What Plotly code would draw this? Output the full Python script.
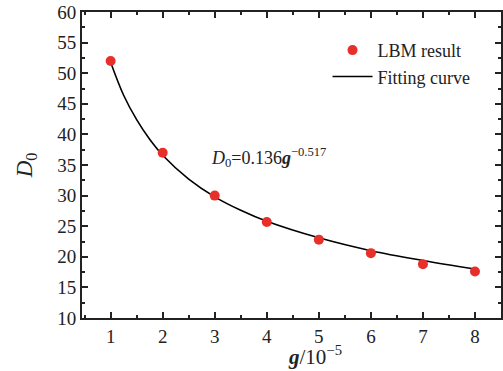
import plotly.graph_objects as go

g_values = [1, 2, 3, 4, 5, 6, 7, 8]
d0_values = [52.0, 37.0, 30.0, 25.7, 22.8, 20.6, 18.8, 17.6]

fit_x = [1, 1.25, 1.5, 1.75, 2, 2.5, 3, 3.5, 4, 5, 6, 7, 8]
fit_y = [51.8, 46.4, 42.4, 39.2, 36.6, 32.7, 29.8, 27.6, 25.8, 23.1, 21.0, 19.4, 18.0]

x_ticks = [1, 2, 3, 4, 5, 6, 7, 8]
y_ticks = [10, 15, 20, 25, 30, 35, 40, 45, 50, 55, 60]

FONT = "Times New Roman, Liberation Serif, serif"
AX = "#222222"

fig = go.Figure()
fig.add_trace(go.Scatter(
    x=fit_x, y=fit_y, mode="lines", name="Fitting curve",
    line=dict(color="black", width=1.6, shape="spline"),
))
fig.add_trace(go.Scatter(
    x=g_values, y=d0_values, mode="markers", name="LBM result",
    marker=dict(color="#e8302a", size=10, line=dict(width=0)),
))

axis_common = dict(
    showline=True, linecolor=AX, linewidth=2, mirror="ticks",
    ticks="inside", ticklen=6, tickwidth=1.5, tickcolor=AX,
    showgrid=False, zeroline=False,
    tickfont=dict(family=FONT, size=19, color="#222"),
)

fig.update_xaxes(
    range=[0.45, 8.5], tickvals=x_ticks, ticktext=[str(v) for v in x_ticks],
    minor=dict(ticks="inside", ticklen=3, tickwidth=1.5, tickcolor=AX, dtick=0.5, tick0=0.5),
    **axis_common,
)
fig.update_yaxes(
    range=[10, 60], tickvals=y_ticks, ticktext=[str(v) for v in y_ticks],
    minor=dict(ticks="inside", ticklen=3, tickwidth=1.5, tickcolor=AX, dtick=2.5, tick0=0),
    title=dict(text="<i>D</i><sub>0</sub>", font=dict(family=FONT, size=23, color="#222"), standoff=18),
    **axis_common,
)

# x-axis title (offset to the right as in the reference)
fig.add_annotation(
    x=0.555, y=0, xref="paper", yref="paper", yshift=-53, showarrow=False,
    xanchor="center", yanchor="bottom",
    text="<b><i>g</i></b>/10<sup>−5</sup>",
    font=dict(family=FONT, size=21, color="#222"),
)

fig.add_annotation(
    x=4.03, y=36.2, xref="x", yref="y", showarrow=False,
    text="<i>D</i><sub>0</sub>=0.136<b><i>g</i></b><sup>−0.517</sup>",
    font=dict(family=FONT, size=18, color="#222"),
)

fig.update_layout(
    width=503, height=371,
    margin=dict(l=82, r=0, t=12, b=53),
    paper_bgcolor="white", plot_bgcolor="white",
    showlegend=True,
    legend=dict(
        x=0.586, y=0.935, xanchor="left", yanchor="top",
        font=dict(family=FONT, size=18, color="#222"),
        bgcolor="rgba(0,0,0,0)", traceorder="reversed",
        itemwidth=40, tracegroupgap=0,
    ),
)

fig.write_html("out.html")
